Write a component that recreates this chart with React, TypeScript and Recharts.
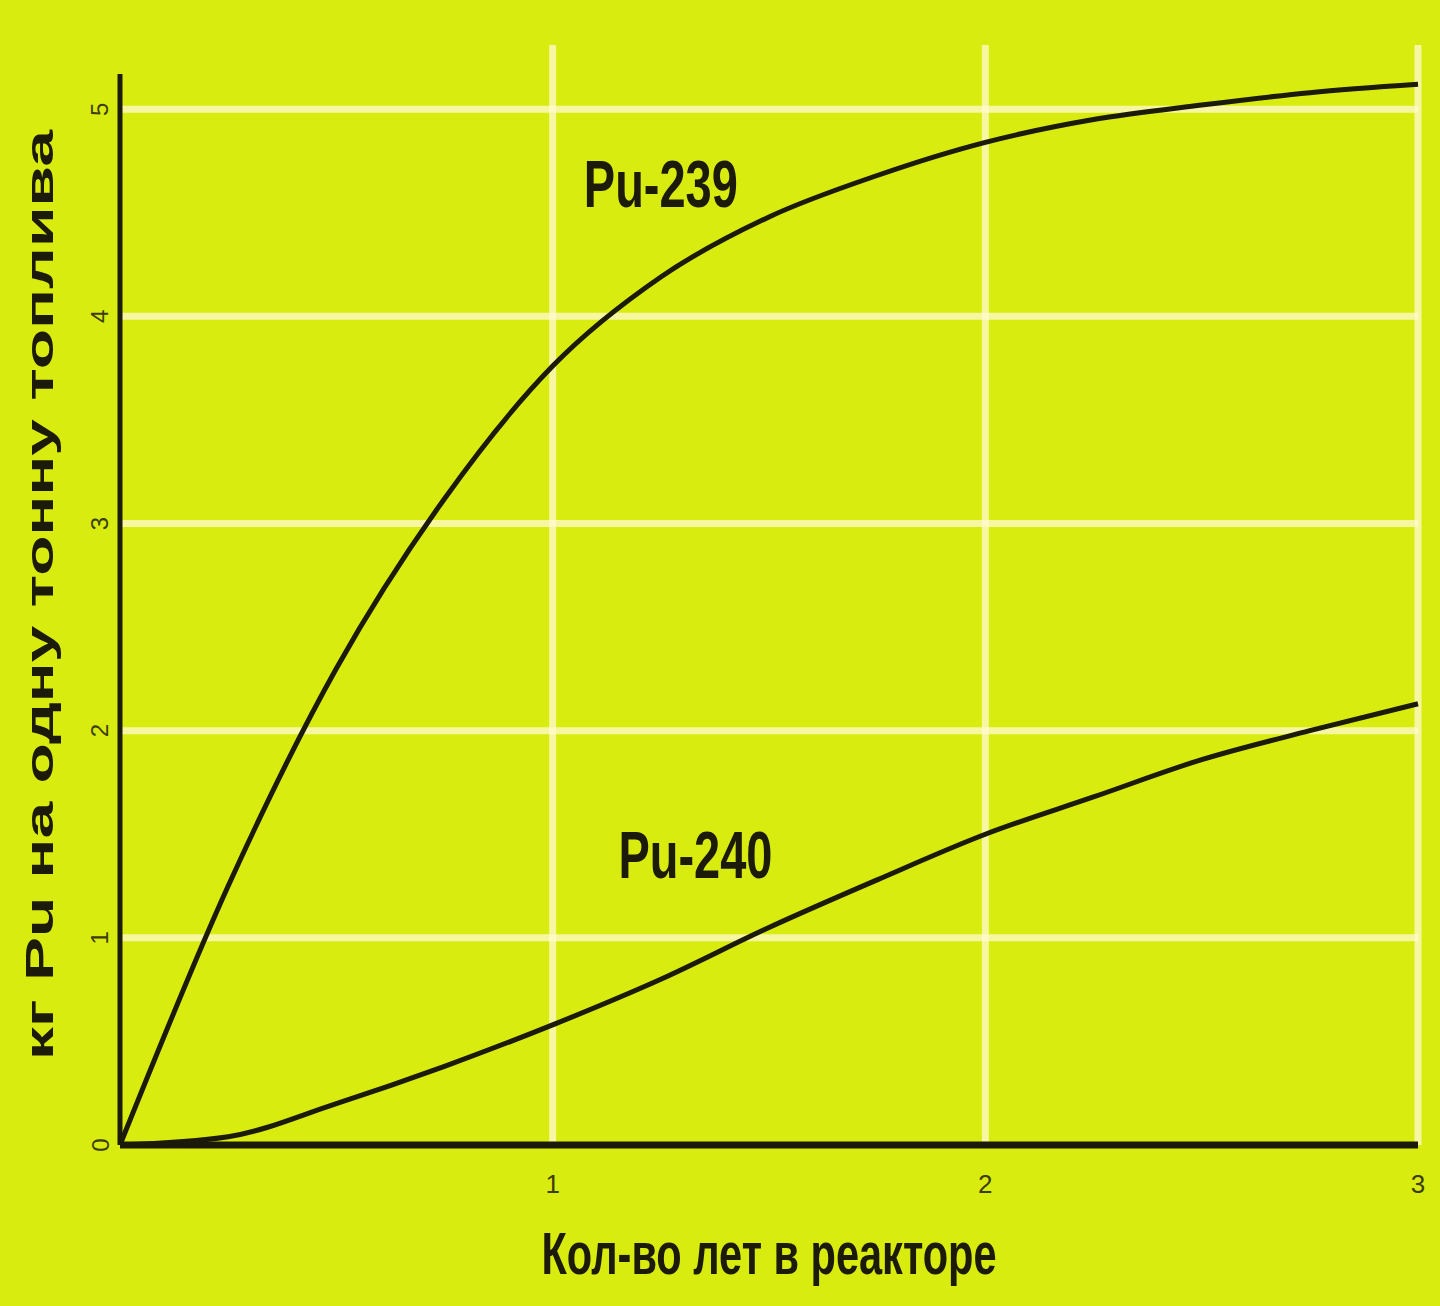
import { CartesianGrid, Line, LineChart, ReferenceDot, ReferenceLine, XAxis, YAxis } from "recharts";

const years = [0, 0.25, 0.5, 0.75, 1, 1.25, 1.5, 1.75, 2, 2.25, 2.5, 2.75, 3];
const pu239 = [0, 1.25, 2.3, 3.12, 3.76, 4.19, 4.48, 4.68, 4.84, 4.95, 5.02, 5.08, 5.12];
const pu240 = [0, 0.04, 0.2, 0.38, 0.58, 0.8, 1.05, 1.28, 1.5, 1.68, 1.86, 2.0, 2.13];
const xTicks = [1, 2, 3];
const yTicks = [0, 1, 2, 3, 4, 5];

const data = years.map((y, i) => ({ year: y, pu239: pu239[i], pu240: pu240[i] }));

const BG = "#d9ec10";
const INK = "#1c1a08";
const FONT = '"Liberation Sans", Arial, sans-serif';

function YTick({ x, y, payload }: any) {
  return (
    <text
      x={x}
      y={y}
      transform={`rotate(-90 ${x} ${y})`}
      textAnchor="middle"
      dominantBaseline="central"
      fontSize={24}
      fontFamily={FONT}
      fill="#3c3c0c"
    >
      {payload.value}
    </text>
  );
}

// the original lettering is a condensed bold face, so squeeze it to the measured length
function SqueezedText({ x, y, value, size, length, angle = 0 }: any) {
  return (
    <text
      x={x}
      y={y}
      transform={angle ? `rotate(${angle} ${x} ${y})` : undefined}
      textAnchor="middle"
      dominantBaseline="central"
      fontSize={size}
      fontWeight="bold"
      fontFamily={FONT}
      fill={INK}
      textLength={length}
      lengthAdjust="spacingAndGlyphs"
    >
      {value}
    </text>
  );
}

function SeriesLabel({ viewBox, value }: any) {
  return <SqueezedText x={viewBox.cx ?? viewBox.x} y={viewBox.cy ?? viewBox.y} value={value} size={66} length={154} />;
}

function XTitle({ viewBox }: any) {
  return (
    <SqueezedText
      x={viewBox.x + viewBox.width / 2}
      y={1253}
      value="Кол-во лет в реакторе"
      size={60}
      length={455}
    />
  );
}

function YTitle({ viewBox }: any) {
  return (
    <SqueezedText
      x={40}
      y={viewBox.y + viewBox.height / 2}
      value="кг Pu на одну тонну топлива"
      size={38}
      length={930}
      angle={-90}
    />
  );
}

export default function App() {
  return (
    <div style={{ width: 1440, height: 1306, background: BG, position: "relative" }}>
      <style>{"body{margin:0}"}</style>
      <LineChart
        width={1440}
        height={1306}
        data={data}
        margin={{ top: 45, right: 22, bottom: 0, left: 0 }}
      >
        <CartesianGrid
          stroke="#fffbd0"
          strokeOpacity={0.75}
          strokeWidth={7}
          horizontalValues={[1, 2, 3, 4, 5]}
          verticalValues={[1, 2, 3]}
        />
        <XAxis
          dataKey="year"
          type="number"
          domain={[0, 3]}
          ticks={xTicks}
          axisLine={false}
          tickLine={false}
          height={161}
          tickMargin={24}
          tick={{ fontSize: 26, fill: "#3c3c0c", fontFamily: FONT }}
          label={<XTitle />}
        />
        <YAxis
          type="number"
          domain={[0, 5.31]}
          ticks={yTicks}
          allowDataOverflow
          axisLine={false}
          tickLine={false}
          width={120}
          tickMargin={14}
          tick={<YTick />}
          label={<YTitle />}
        />
        <ReferenceLine segment={[{ x: 0, y: 0 }, { x: 0, y: 5.17 }]} stroke={INK} strokeWidth={5} />
        <ReferenceLine segment={[{ x: 0, y: 0 }, { x: 3, y: 0 }]} stroke={INK} strokeWidth={7} />
        <Line
          type="monotone"
          dataKey="pu239"
          stroke={INK}
          strokeWidth={5}
          dot={false}
          isAnimationActive={false}
        />
        <Line
          type="monotone"
          dataKey="pu240"
          stroke={INK}
          strokeWidth={5}
          dot={false}
          isAnimationActive={false}
        />
        <ReferenceDot x={1.25} y={4.64} r={0} fill="none" stroke="none" label={<SeriesLabel value="Pu-239" />} />
        <ReferenceDot x={1.33} y={1.4} r={0} fill="none" stroke="none" label={<SeriesLabel value="Pu-240" />} />
      </LineChart>
    </div>
  );
}
